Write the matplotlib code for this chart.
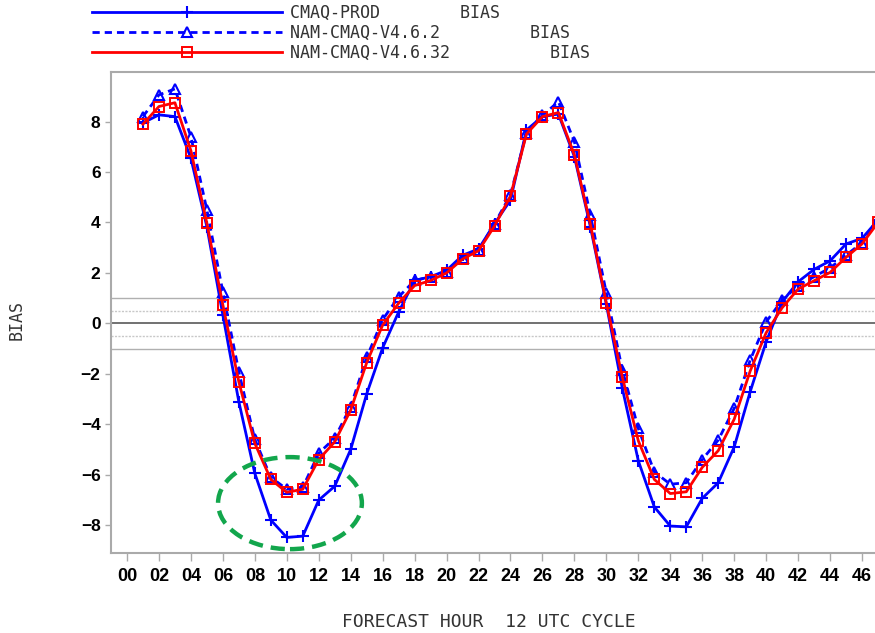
import matplotlib
matplotlib.use("Agg")
import matplotlib.pyplot as plt
from matplotlib.patches import Ellipse
import numpy as np

# forecast hours 01..47, 12 UTC cycle
hours = np.arange(1, 48)

cmaq_prod = [7.95, 8.27, 8.2, 6.55, 3.83, 0.33, -3.11, -5.95, -7.8, -8.49,
             -8.44, -7.01, -6.46, -5.0, -2.8, -0.97, 0.45, 1.7, 1.85, 2.1,
             2.7, 2.95, 3.95, 4.89, 7.67, 8.2, 8.3, 6.61, 3.83, 0.75,
             -2.58, -5.45, -7.28, -8.04, -8.07, -6.94, -6.32, -4.9, -2.71, -0.73,
             0.85, 1.65, 2.14, 2.48, 3.15, 3.37, 4.1]
nam_v462 = [8.2, 9.06, 9.3, 7.4, 4.5, 1.25, -1.92, -4.6, -6.1, -6.58,
            -6.5, -5.15, -4.55, -3.3, -1.35, 0.15, 1.05, 1.7, 1.85, 2.05,
            2.6, 2.9, 3.95, 5.1, 7.55, 8.25, 8.79, 7.2, 4.3, 1.2,
            -1.85, -4.17, -5.89, -6.38, -6.32, -5.4, -4.63, -3.37, -1.46, 0.06,
            0.92, 1.5, 1.85, 2.2, 2.7, 3.2, 4.1]
nam_v4632 = [7.9, 8.6, 8.75, 6.85, 3.97, 0.73, -2.32, -4.76, -6.19, -6.7,
             -6.58, -5.4, -4.7, -3.44, -1.56, -0.07, 0.8, 1.5, 1.7, 2.0,
             2.55, 2.88, 3.86, 5.05, 7.51, 8.2, 8.36, 6.68, 3.93, 0.8,
             -2.14, -4.66, -6.19, -6.75, -6.68, -5.71, -5.05, -3.8, -1.89, -0.37,
             0.62, 1.36, 1.69, 2.02, 2.62, 3.15, 4.0]

labels = ["CMAQ-PROD        BIAS",
          "NAM-CMAQ-V4.6.2         BIAS",
          "NAM-CMAQ-V4.6.32          BIAS"]

xticks = np.arange(0, 47, 2)
yticks = np.arange(-8, 9, 2)

mono = "DejaVu Sans Mono"
txt_col = "#333333"
axis_col = "#aaaaaa"

fig = plt.figure(figsize=(8.75, 6.33), dpi=100)
ax = fig.add_axes([0.12686, 0.1259, 0.8766, 0.7608])

# reference levels
ax.axhline(0, color="#666666", lw=1.3, zorder=1)
for v in (-1, 1):
    ax.axhline(v, color="#b0b0b0", lw=1.0, zorder=1)
for v in (-0.5, 0.5):
    ax.axhline(v, color="#c8c8c8", lw=1.0, ls=(0, (1.5, 1.0)), zorder=1)

l1, = ax.plot(hours, cmaq_prod, color="#0000ff", lw=2.0, marker="+",
              ms=9, mew=1.5, zorder=3)
l2, = ax.plot(hours, nam_v462, color="#0000ff", lw=2.0, ls=(0, (2.6, 1.8)),
              marker="^", ms=6.5, mfc="none", mew=1.5, zorder=4)
l3, = ax.plot(hours, nam_v4632, color="#ff0000", lw=2.0, marker="s",
              ms=6.5, mfc="none", mew=1.4, zorder=5)

# highlight the CMAQ-PROD minimum near hour 10
ax.add_patch(Ellipse((10.2, -7.13), 9.0, 3.65, fill=False, ec="#12a64c",
                     lw=3.2, ls=(0, (3.2, 1.8)), zorder=6))

ax.set_xlim(-1, 47)
ax.set_ylim(-9.12, 9.98)
ax.set_xticks(xticks)
ax.set_xticklabels(["%02d" % h for h in xticks])
ax.set_yticks(yticks)
ax.set_yticklabels(["\u2212%d" % -v if v < 0 else "%d" % v for v in yticks])

for s in ("left", "bottom", "top"):
    ax.spines[s].set_color(axis_col)
    ax.spines[s].set_linewidth(1.5)
ax.spines["right"].set_visible(False)

ax.tick_params(axis="x", length=6, width=1, color=axis_col, pad=4.5)
ax.tick_params(axis="y", length=4, width=1, color=axis_col, pad=3.5)
for t in ax.get_xticklabels():
    t.set_fontfamily("Liberation Sans")
    t.set_fontweight("bold")
    t.set_fontsize(13)
for t in ax.get_yticklabels():
    t.set_fontfamily("Liberation Sans")
    t.set_fontweight("bold")
    t.set_fontsize(12.5)

fig.text(488.5 / 875, 1 - 621.7 / 633, "FORECAST HOUR  12 UTC CYCLE",
         family=mono, fontsize=13, color=txt_col, ha="center", va="center")
fig.text(17 / 875, 1 - 320 / 633, "BIAS", family=mono, fontsize=12,
         color=txt_col, rotation=90, ha="center", va="center")

fig.legend([l1, l2, l3], labels, loc="upper left",
           bbox_to_anchor=(92 / 875, 1 - 4 / 633), frameon=False,
           prop={"family": mono, "size": 12}, labelcolor=txt_col,
           handlelength=11.4, handletextpad=0.45, labelspacing=0.12,
           borderpad=0, borderaxespad=0, numpoints=1)

fig.savefig("out.png", dpi=100)
